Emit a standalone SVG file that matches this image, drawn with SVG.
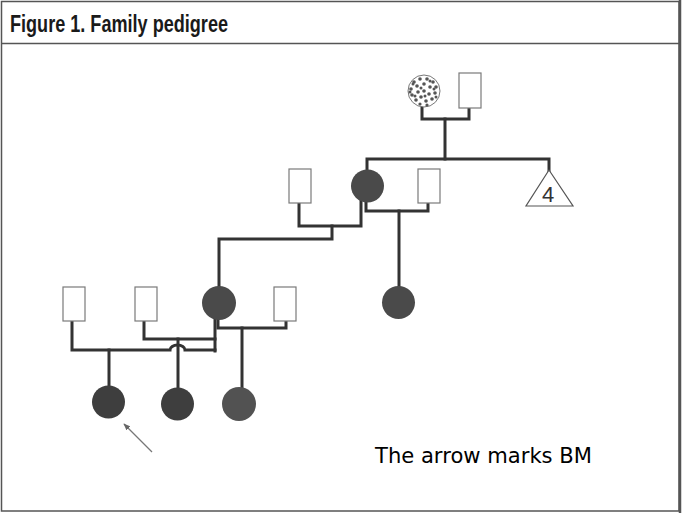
<svg xmlns="http://www.w3.org/2000/svg" width="682" height="513" viewBox="0 0 682 513">
<style>
.conn{fill:none;stroke:#333;stroke-width:3;stroke-linejoin:miter;stroke-linecap:square}
.male{fill:#fff;stroke:#7a7a7a;stroke-width:1.2}
.aff{fill:#3e3e3e}
.aff2{fill:#4a4a4a}
.aff3{fill:#525252}
.dot{fill:#555}
.title{font-family:"Liberation Sans",Arial,sans-serif;font-weight:bold;font-size:23px;fill:#1a1a1a}
.note{font-family:"DejaVu Sans","Liberation Sans",sans-serif;font-size:22px;fill:#000}
</style>
<defs>
<marker id="ah" viewBox="0 0 10 10" refX="9" refY="5" markerWidth="7" markerHeight="7" orient="auto" markerUnits="userSpaceOnUse">
<path d="M0,1 L10,5 L0,9 Z" fill="#666"/>
</marker>
</defs>
<rect x="0" y="0" width="682" height="513" fill="#fff"/>
<g id="frame">
<rect x="1.5" y="1.5" width="677.5" height="509.5" fill="none" stroke="#555" stroke-width="1.5"/>
<line x1="680" y1="0" x2="680" y2="513" stroke="#555" stroke-width="2.5"/>
<line x1="1" y1="43.5" x2="680" y2="43.5" stroke="#555" stroke-width="1.5"/>
<text class="title" x="10" y="32" textLength="218" lengthAdjust="spacingAndGlyphs">Figure 1. Family pedigree</text>
</g>
<g id="connectors">
<path class="conn" d="M422,104 V119 H469 V108"/>
<path class="conn" d="M445,119 V159"/>
<path class="conn" d="M367,172 V159 H549 V172"/>
<path class="conn" d="M299,203 V226 H361 V198"/>
<path class="conn" d="M332,226 V239 H219 V290"/>
<path class="conn" d="M366,200 V211 H428 V203"/>
<path class="conn" d="M399,211 V290"/>
<path class="conn" d="M215,316 V351"/>
<path class="conn" d="M72,321 V350 H170 A7.5 5 0 0 1 185 350 H215"/>
<path class="conn" d="M144,321 V339 H215"/>
<path class="conn" d="M218,316 V328 H286 V321"/>
<path class="conn" d="M109,350 V390"/>
<path class="conn" d="M178,339 V390"/>
<path class="conn" d="M242,328 V390"/>
<line x1="152" y1="452" x2="124" y2="424" stroke="#777" stroke-width="1.2" marker-end="url(#ah)"/>
</g>
<g id="gen1-female">
<circle cx="424" cy="91" r="16" fill="#fff" stroke="#777" stroke-width="1"/>
<g class="dot">
<circle cx="414" cy="82" r="1.8"/><circle cx="420" cy="79" r="1.8"/><circle cx="427" cy="79" r="1.8"/><circle cx="433" cy="82" r="1.8"/><circle cx="436" cy="87" r="1.8"/>
<circle cx="411" cy="89" r="1.8"/><circle cx="417" cy="86" r="1.8"/><circle cx="424" cy="84" r="1.8"/><circle cx="430" cy="87" r="1.8"/><circle cx="435" cy="93" r="1.8"/>
<circle cx="412" cy="95" r="1.8"/><circle cx="418" cy="92" r="1.8"/><circle cx="424" cy="91" r="1.8"/><circle cx="429" cy="94" r="1.8"/><circle cx="432" cy="99" r="1.8"/>
<circle cx="416" cy="100" r="1.8"/><circle cx="421" cy="97" r="1.8"/><circle cx="426" cy="101" r="1.8"/><circle cx="420" cy="104" r="1.6"/><circle cx="427" cy="105" r="1.6"/>
<circle cx="413" cy="84" r="1.5"/><circle cx="421" cy="88" r="1.5"/><circle cx="434" cy="89" r="1.5"/><circle cx="415" cy="96" r="1.5"/><circle cx="430" cy="81" r="1.5"/>
<circle cx="425" cy="96" r="1.5"/><circle cx="436" cy="97" r="1.5"/><circle cx="410" cy="92" r="1.5"/>
</g>
</g>
<g id="gen1-male"><rect class="male" x="459" y="73" width="22" height="35"/></g>
<g id="gen2-female-a"><circle class="aff2" cx="367.5" cy="186" r="16.5"/></g>
<g id="gen2-male-a"><rect class="male" x="289" y="169" width="22" height="34"/></g>
<g id="gen2-male-b"><rect class="male" x="418" y="169" width="22" height="34"/></g>
<g id="gen2-siblings">
<polygon points="549,170 526,206 573,206" fill="#fff" stroke="#555" stroke-width="1.2"/>
<text x="548" y="202" text-anchor="middle" font-family="Liberation Sans,Arial,sans-serif" font-size="22" fill="#333">4</text>
</g>
<g id="gen3-female-a"><circle class="aff2" cx="219" cy="303" r="17"/></g>
<g id="gen3-female-b"><circle class="aff2" cx="398.5" cy="302.5" r="16.5"/></g>
<g id="gen3-male-a"><rect class="male" x="63" y="287" width="22" height="34"/></g>
<g id="gen3-male-b"><rect class="male" x="135" y="287" width="22" height="34"/></g>
<g id="gen3-male-c"><rect class="male" x="274" y="287" width="22" height="34"/></g>
<g id="gen4-bm"><circle class="aff" cx="108.5" cy="402" r="16.5"/></g>
<g id="gen4-b"><circle class="aff" cx="177.5" cy="404" r="16.5"/></g>
<g id="gen4-c"><circle class="aff3" cx="239" cy="404" r="17"/></g>
<text class="note" x="375" y="463" textLength="217" lengthAdjust="spacingAndGlyphs">The arrow marks BM</text>
</svg>
